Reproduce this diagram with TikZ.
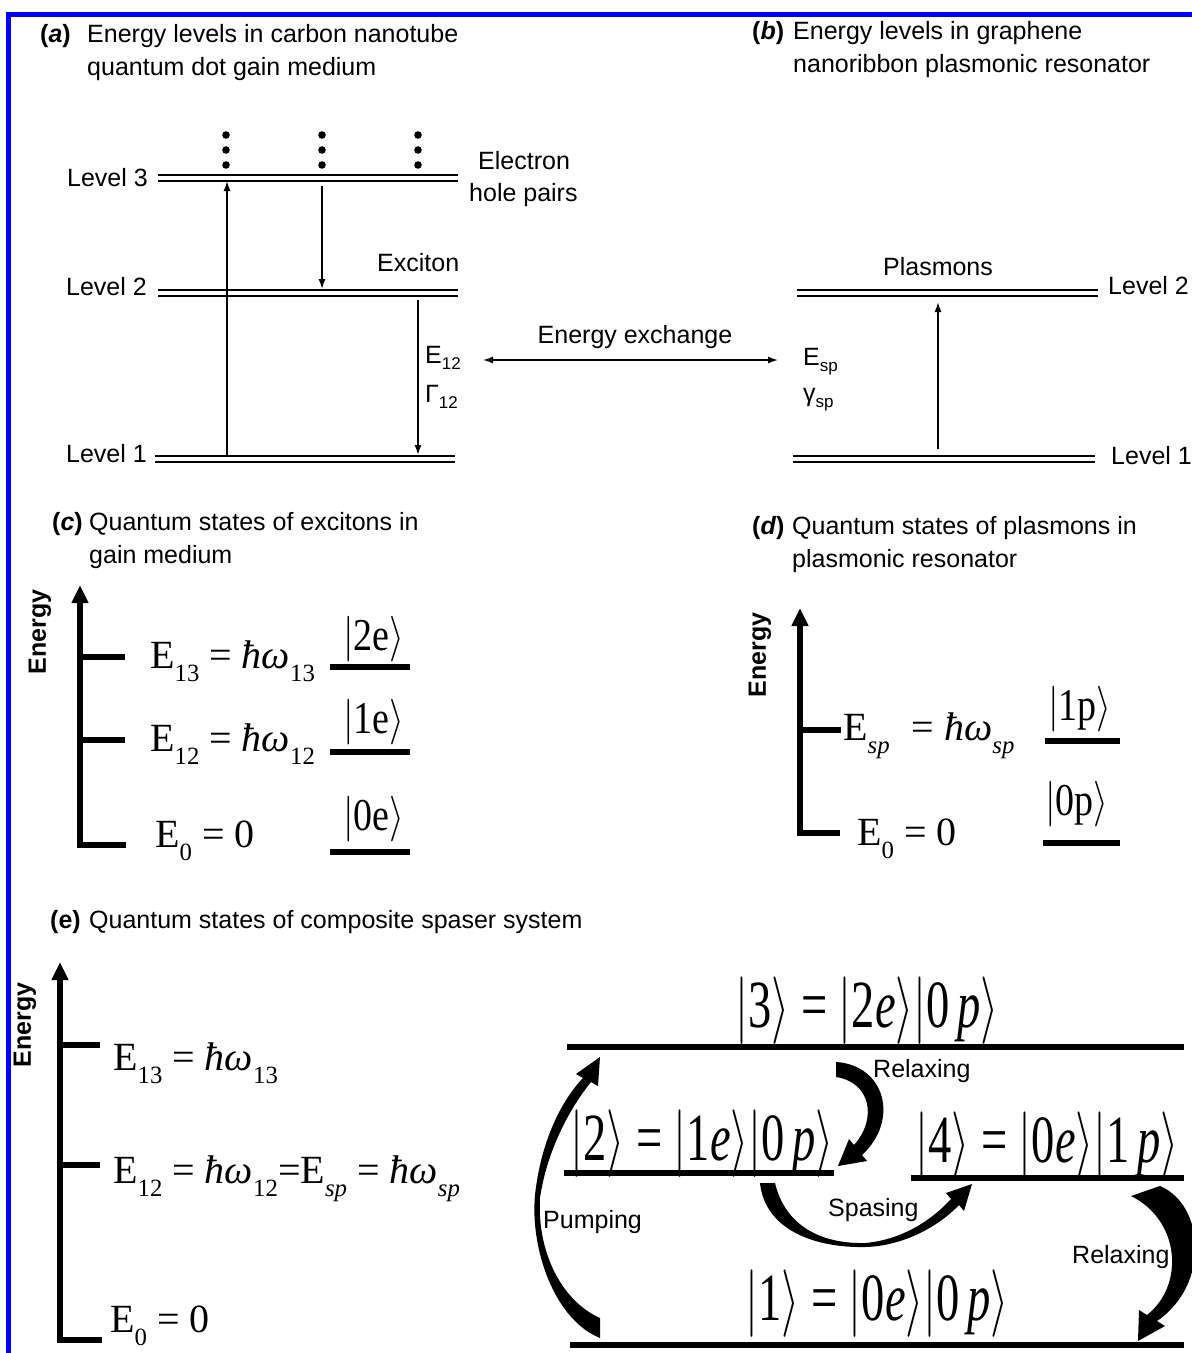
\RequirePackage{fix-cm}
\documentclass[tikz,border=0pt]{standalone}
\usepackage{amsmath}
\usepackage{graphicx}
\usepackage{fontspec}
\setmainfont{Liberation Serif}
\setsansfont{Liberation Sans}
\usetikzlibrary{arrows.meta}

\newcommand{\ket}[1]{\ensuremath{\left|\rule[-0.2em]{0pt}{0.85em}\text{#1}\right\rangle}}
\newcommand{\dsub}[1]{\raisebox{-0.33em}{\scalebox{0.62}{#1}}}
\newcommand{\ssub}[1]{\raisebox{-0.25em}{\scalebox{0.68}{#1}}}

\begin{document}
\begin{tikzpicture}[
  x=1pt, y=-1pt,
  lbl/.style    = {font=\fontsize{25}{30}\selectfont\sffamily, inner sep=0pt},
  tag/.style    = {font=\fontsize{25}{30}\selectfont\sffamily\bfseries, inner sep=0pt},
  eixolbl/.style = {font=\fontsize{25}{30}\selectfont\sffamily\bfseries,
                    rotate=90, inner sep=0pt},
  eqn/.style    = {font=\fontsize{40}{48}\selectfont, inner sep=0pt},
  kt/.style     = {font=\fontsize{38}{44}\selectfont, inner sep=0pt},
  bigkt/.style  = {font=\fontsize{50}{58}\selectfont, inner sep=0pt},
  dbl/.style    = {double, double distance=4pt, line width=2pt},
  fino/.style   = {line width=1.4pt},
  eixo/.style   = {line width=5.5pt, -{Triangle[length=18pt,width=16pt]}},
  nivel/.style  = {line width=5.5pt},
  >={Latex[length=10pt,width=7pt]}
]
  \useasboundingbox (0,0) rectangle (1192,1353);

  % Moldura
  \draw[blue, line width=4.5pt] (8.5,1353) -- (8.5,14.5) -- (1192,14.5);

  % (a) niveis no nanotubo
  \node[tag, anchor=west] (ta)  at (40,36) {(\textit{a})};
  \node[lbl, anchor=west] (ta1) at (87,36) {Energy levels in carbon nanotube};
  \node[lbl, anchor=west] (ta2) at (87,69) {quantum dot gain medium};

  \coordinate (a3l) at (158,178); \coordinate (a3r) at (458,178);
  \coordinate (a2l) at (158,293); \coordinate (a2r) at (458,293);
  \coordinate (a1l) at (155,459); \coordinate (a1r) at (455,459);
  \draw[dbl] (a3l) -- (a3r);
  \draw[dbl] (a2l) -- (a2r);
  \draw[dbl] (a1l) -- (a1r);
  \node[lbl, anchor=east] (la3) at (148,178) {Level 3};
  \node[lbl, anchor=east] (la2) at (147,287) {Level 2};
  \node[lbl, anchor=east] (la1) at (147,454) {Level 1};

  \foreach \x in {226,322,418}
    \foreach \y in {135,150,165}
      \fill (\x,\y) circle (3.8pt);

  \node[lbl, anchor=west] (elec) at (478,161) {Electron};
  \node[lbl, anchor=west] (hole) at (469,195) {hole pairs};
  \node[lbl, anchor=west] (exc)  at (377,263) {Exciton};

  % Setas finas
  \coordinate (pa1) at (227,456); \coordinate (pa3) at (227,181);
  \coordinate (da3) at (322,186); \coordinate (da2) at (322,289);
  \coordinate (ea2) at (418,300); \coordinate (ea1) at (418,455);
  \draw[fino, ->] (pa1) -- (pa3);
  \draw[fino, ->] (da3) -- (da2);
  \draw[fino, ->] (ea2) -- (ea1);
  \node[lbl, anchor=west] (e12) at (425,358) {E\ssub{12}};
  \node[lbl, anchor=west] (g12) at (425,397) {Γ\ssub{12}};

  % Troca de energia
  \coordinate (xl) at (483,360); \coordinate (xr) at (778,360);
  \draw[fino, <->] (xl) -- (xr);
  \node[lbl] (xch) at (635,337) {Energy exchange};

  % (b) niveis no grafeno
  \node[tag, anchor=west] (tb)  at (752,33) {(\textit{b})};
  \node[lbl, anchor=west] (tb1) at (793,33) {Energy levels in graphene};
  \node[lbl, anchor=west] (tb2) at (793,66) {nanoribbon plasmonic resonator};

  \coordinate (b2l) at (797,293); \coordinate (b2r) at (1098,293);
  \coordinate (b1l) at (793,459); \coordinate (b1r) at (1095,459);
  \draw[dbl] (b2l) -- (b2r);
  \draw[dbl] (b1l) -- (b1r);
  \node[lbl, anchor=west] (lb2) at (1108,286) {Level 2};
  \node[lbl, anchor=west] (lb1) at (1111,456) {Level 1};
  \node[lbl] (plas) at (938,267) {Plasmons};
  \coordinate (pb1) at (938,449); \coordinate (pb2) at (938,302);
  \draw[fino, ->] (pb1) -- (pb2);
  \node[lbl, anchor=west] (esp) at (803,362) {E\ssub{sp}};
  \node[lbl, anchor=west] (gsp) at (803,400) {γ\ssub{sp}};

  % (c) estados dos excitons
  \node[tag, anchor=west] (tc)  at (52,524) {(\textit{c})};
  \node[lbl, anchor=west] (tc1) at (89,524) {Quantum states of excitons in};
  \node[lbl, anchor=west] (tc2) at (89,557) {gain medium};
  \node[eixolbl] (enc) at (40,632) {Energy};
  \draw[eixo] (126,845) -- (80,845) -- (80,585);
  \draw[nivel] (80,657) -- (125,657);
  \draw[nivel] (80,740) -- (125,740);
  \node[eqn, anchor=base west] (c13) at (150,668) {E\dsub{13} = \textit{ħω}\dsub{13}};
  \node[eqn, anchor=base west] (c12) at (150,751) {E\dsub{12} = \textit{ħω}\dsub{12}};
  \node[eqn, anchor=base west] (c0)  at (155,847) {E\dsub{0} = 0};
  \node[kt, anchor=base west] (k2e) at (343,650) {\scalebox{1}[1.2]{\ket{2e}}};
  \node[kt, anchor=base west] (k1e) at (343,733) {\scalebox{1}[1.2]{\ket{1e}}};
  \node[kt, anchor=base west] (k0e) at (343,830) {\scalebox{1}[1.2]{\ket{0e}}};
  \draw[nivel] (330,667) -- (410,667);
  \draw[nivel] (330,752) -- (410,752);
  \draw[nivel] (330,852) -- (410,852);

  % (d) estados dos plasmons
  \node[tag, anchor=west] (td)  at (752,528) {(\textit{d})};
  \node[lbl, anchor=west] (td1) at (792,528) {Quantum states of plasmons in};
  \node[lbl, anchor=west] (td2) at (792,561) {plasmonic resonator};
  \node[eixolbl] (end) at (760,655) {Energy};
  \draw[eixo] (840,833) -- (800,833) -- (800,608);
  \draw[nivel] (800,730) -- (841,730);
  \node[eqn, anchor=base west] (dsp) at (843,740)
    {E\dsub{\textit{sp}}\hspace{0.3em} = \textit{ħω}\dsub{\textit{sp}}};
  \node[eqn, anchor=base west] (d0)  at (857,845) {E\dsub{0} = 0};
  \node[kt, anchor=base west] (k1p) at (1048,720) {\scalebox{1}[1.2]{\ket{1p}}};
  \node[kt, anchor=base west] (k0p) at (1045,815) {\scalebox{1}[1.2]{\ket{0p}}};
  \draw[nivel] (1045,741) -- (1120,741);
  \draw[nivel] (1043,843) -- (1120,843);

  % (e) sistema composto
  \node[tag, anchor=west] (te)  at (50,922) {(e)};
  \node[lbl, anchor=west] (te1) at (89,922) {Quantum states of composite spaser system};
  \node[eixolbl] (ene) at (25,1025) {Energy};
  \draw[eixo] (102,1340) -- (60,1340) -- (60,962);
  \draw[nivel] (60,1045) -- (100,1045);
  \draw[nivel] (60,1165) -- (100,1165);
  \node[eqn, anchor=base west] (e13) at (113,1070) {E\dsub{13} = \textit{ħω}\dsub{13}};
  \node[eqn, anchor=base west] (e12b) at (113,1183)
    {E\dsub{12} = \textit{ħω}\dsub{12}=E\dsub{\textit{sp}} = \textit{ħω}\dsub{\textit{sp}}};
  \node[eqn, anchor=base west] (e0) at (110,1332) {E\dsub{0} = 0};

  % Niveis compostos
  \draw[nivel] (567,1047) -- (1184,1047);
  \draw[nivel] (564,1173) -- (834,1173);
  \draw[nivel] (911,1178) -- (1184,1178);
  \draw[nivel] (570,1345) -- (1184,1345);
  \node[bigkt, anchor=base west] (s3) at (735,1027)
    {\scalebox{0.93}[1.35]{\ket{3} = \ket{2\textit{e}}\ket{0\,\textit{p}}}};
  \node[bigkt, anchor=base west] (s2) at (570,1160)
    {\scalebox{0.93}[1.35]{\ket{2} = \ket{1\textit{e}}\ket{0\,\textit{p}}}};
  \node[bigkt, anchor=base west] (s4) at (915,1162)
    {\scalebox{0.93}[1.35]{\ket{4} = \ket{0\textit{e}}\ket{1\,\textit{p}}}};
  \node[bigkt, anchor=base west] (s1) at (745,1320)
    {\scalebox{0.93}[1.35]{\ket{1} = \ket{0\textit{e}}\ket{0\,\textit{p}}}};

  % Setas curvas
  \fill (600,1338) .. controls (555,1320) and (530,1250) .. (535,1195)
        .. controls (541,1140) and (562,1100) .. (583,1078)
        -- (576,1074) -- (600,1057) -- (598,1086) -- (591,1082)
        .. controls (570,1108) and (547,1150) .. (540,1198)
        .. controls (537,1250) and (560,1300) .. (600,1318) -- cycle;
  \fill (836,1062) .. controls (885,1065) and (900,1120) .. (862,1155)
        -- (867,1161) -- (838,1166) -- (849,1139) -- (854,1145)
        .. controls (878,1118) and (870,1082) .. (836,1077) -- cycle;
  \fill (760,1183) .. controls (765,1230) and (815,1248) .. (865,1247)
        .. controls (905,1246) and (940,1225) .. (959,1205)
        -- (964,1211) -- (972,1184) -- (946,1193) -- (951,1199)
        .. controls (930,1222) and (900,1240) .. (865,1243)
        .. controls (820,1244) and (785,1225) .. (775,1183) -- cycle;
  \fill (1160,1186) .. controls (1205,1205) and (1210,1285) .. (1157,1321)
        -- (1165,1326) -- (1138,1341) -- (1139,1310) -- (1147,1315)
        .. controls (1185,1285) and (1180,1220) .. (1131,1196) -- cycle;
  \node[lbl, anchor=west] (rlx1) at (873,1071) {Relaxing};
  \node[lbl, anchor=west] (spa)  at (828,1210) {Spasing};
  \node[lbl, anchor=west] (pmp)  at (543,1222) {Pumping};
  \node[lbl, anchor=west] (rlx2) at (1072,1257) {Relaxing};
\end{tikzpicture}
\end{document}
